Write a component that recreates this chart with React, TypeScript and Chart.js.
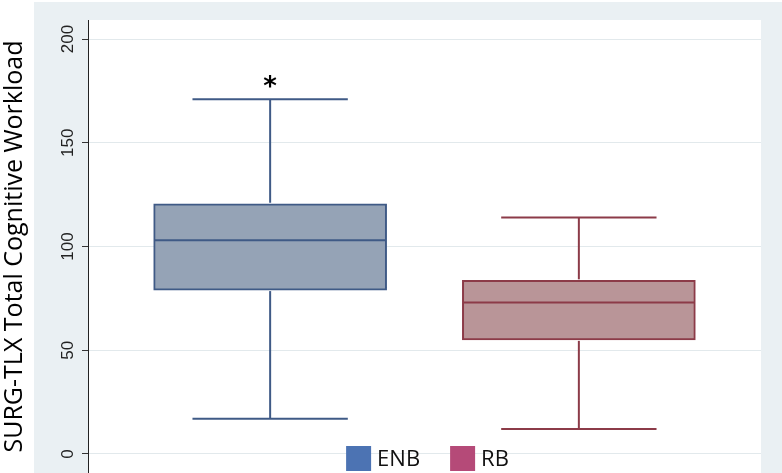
import React, { useEffect, useRef } from 'react';
import { Chart, registerables } from 'chart.js';

Chart.register(...registerables);

// ---- data ----
const GROUPS = ['ENB', 'RB'];
const GROUP_POS = [1, 2];
const MINS = [17, 12];
const Q1S = [79, 55];
const MEDIANS = [103, 73];
const Q3S = [120.6, 83.7];
const MAXS = [171, 114];
const MARKS = ['*', ''];
const Y_TICKS = [0, 50, 100, 150, 200];
const Y_TITLE = 'SURG-TLX Total Cognitive Workload';

// ---- styles ----
const FILL = ['#95a3b6', '#b99598'];
const STROKE = ['#3f5a86', '#8c3b48'];
const LEGEND_COLORS = ['#4c73b3', '#b54a78'];
const OUTER_BG = '#eaf0f3';
const GRID = '#e2e9ec';

const bgPlugin = {
  id: 'bgPlugin',
  beforeDraw(chart: any) {
    const { ctx, width, height, chartArea } = chart;
    ctx.save();
    ctx.fillStyle = '#ffffff';
    ctx.fillRect(0, 0, width, height);
    ctx.fillStyle = OUTER_BG;
    ctx.fillRect(34, 2, width - 34, height - 2);
    ctx.fillStyle = '#ffffff';
    ctx.fillRect(chartArea.left, chartArea.top, chartArea.right - chartArea.left, chartArea.bottom - chartArea.top);
    ctx.restore();
  },
};

const boxPlugin = {
  id: 'boxPlugin',
  afterDatasetsDraw(chart: any) {
    const { ctx } = chart;
    const xs = chart.scales.x;
    const ys = chart.scales.y;
    const line = (x1: number, y1: number, x2: number, y2: number) => {
      ctx.beginPath();
      ctx.moveTo(x1, y1);
      ctx.lineTo(x2, y2);
      ctx.stroke();
    };
    GROUPS.forEach((g, i) => {
      const meta = chart.getDatasetMeta(i);
      const el = meta.data[0];
      if (!el) return;
      const { width } = el.getProps(['width'], true);
      const cx = xs.getPixelForValue(GROUP_POS[i]);
      const half = width / 2;
      const cap = width / 3;
      const yMin = ys.getPixelForValue(MINS[i]);
      const yQ1 = ys.getPixelForValue(Q1S[i]);
      const yMed = ys.getPixelForValue(MEDIANS[i]);
      const yQ3 = ys.getPixelForValue(Q3S[i]);
      const yMax = ys.getPixelForValue(MAXS[i]);
      ctx.save();
      ctx.strokeStyle = STROKE[i];
      ctx.lineWidth = 2;
      line(cx - half + 1, yMed, cx + half - 1, yMed);
      line(cx, yQ3 - 1, cx, yMax);
      line(cx - cap, yMax, cx + cap, yMax);
      line(cx, yQ1 + 1, cx, yMin);
      line(cx - cap, yMin, cx + cap, yMin);
      if (MARKS[i]) {
        ctx.fillStyle = '#000';
        ctx.font = 'bold 26px "DejaVu Sans"';
        ctx.textAlign = 'center';
        ctx.textBaseline = 'alphabetic';
        ctx.fillText(MARKS[i], cx, yMax - 4);
      }
      ctx.restore();
    });
  },
};

const legendPlugin = {
  id: 'legendPlugin',
  afterDraw(chart: any) {
    const { ctx, chartArea } = chart;
    ctx.save();
    ctx.font = '22px "Open Sans"';
    const box = 25;
    const gapText = 6;
    const gapItem = 30;
    const widths = GROUPS.map((g) => ctx.measureText(g).width);
    const total = widths.reduce((a, w) => a + box + gapText + w, 0) + gapItem * (GROUPS.length - 1);
    let x = (chartArea.left + chartArea.right) / 2 + 3 - total / 2;
    const top = 446;
    GROUPS.forEach((g, i) => {
      ctx.fillStyle = LEGEND_COLORS[i];
      ctx.fillRect(x, top, box, box);
      ctx.fillStyle = '#111';
      ctx.textAlign = 'left';
      ctx.textBaseline = 'middle';
      ctx.fillText(g, x + box + gapText, top + box / 2 + 1);
      x += box + gapText + widths[i] + gapItem;
    });
    ctx.restore();
  },
};

export default function App() {
  const ref = useRef<HTMLCanvasElement | null>(null);
  useEffect(() => {
    if (!ref.current) return;
    const chart = new Chart(ref.current, {
      type: 'bar',
      data: {
        datasets: GROUPS.map((g, i) => ({
          label: g,
          data: [{ x: GROUP_POS[i], y: [Q1S[i], Q3S[i]] }],
          backgroundColor: FILL[i],
          borderColor: STROKE[i],
          borderWidth: 2,
          borderSkipped: false,
          barThickness: 233,
          grouped: false,
        })) as any,
      },
      options: {
        animation: false,
        responsive: false,
        devicePixelRatio: 1,
        layout: { padding: { left: 0, right: 21, top: 20, bottom: 0 } },
        plugins: { legend: { display: false }, tooltip: { enabled: false } },
        scales: {
          x: { type: 'linear', min: 0.41, max: 2.59, offset: false, display: false },
          y: {
            type: 'linear',
            min: -9.16,
            max: 209.16,
            afterBuildTicks: (s: any) => {
              s.ticks = Y_TICKS.map((v) => ({ value: v }));
            },
            afterFit: (s: any) => {
              s.width = 88;
              s.paddingTop = 0;
              s.paddingBottom = 0;
            },
            border: { display: true, color: '#222', width: 1 },
            grid: { color: GRID, lineWidth: 1, tickLength: 6, tickColor: '#333', drawTicks: true },
            ticks: {
              autoSkip: false,
              minRotation: 90,
              maxRotation: 90,
              crossAlign: 'center',
              padding: 0,
              color: '#222',
              font: { family: 'Liberation Sans', size: 17 },
            },
            title: {
              display: true,
              text: Y_TITLE,
              color: '#000',
              font: { family: 'Open Sans', size: 25 },
              padding: { top: 0, bottom: 0 },
            },
          },
        },
      } as any,
      plugins: [bgPlugin, boxPlugin, legendPlugin],
    });
    return () => chart.destroy();
  }, []);
  return (
    <div style={{ position: 'fixed', left: 0, top: 0, width: 782, height: 473 }}>
      <canvas ref={ref} width={782} height={473} style={{ width: 782, height: 473, display: 'block' }} />
    </div>
  );
}
